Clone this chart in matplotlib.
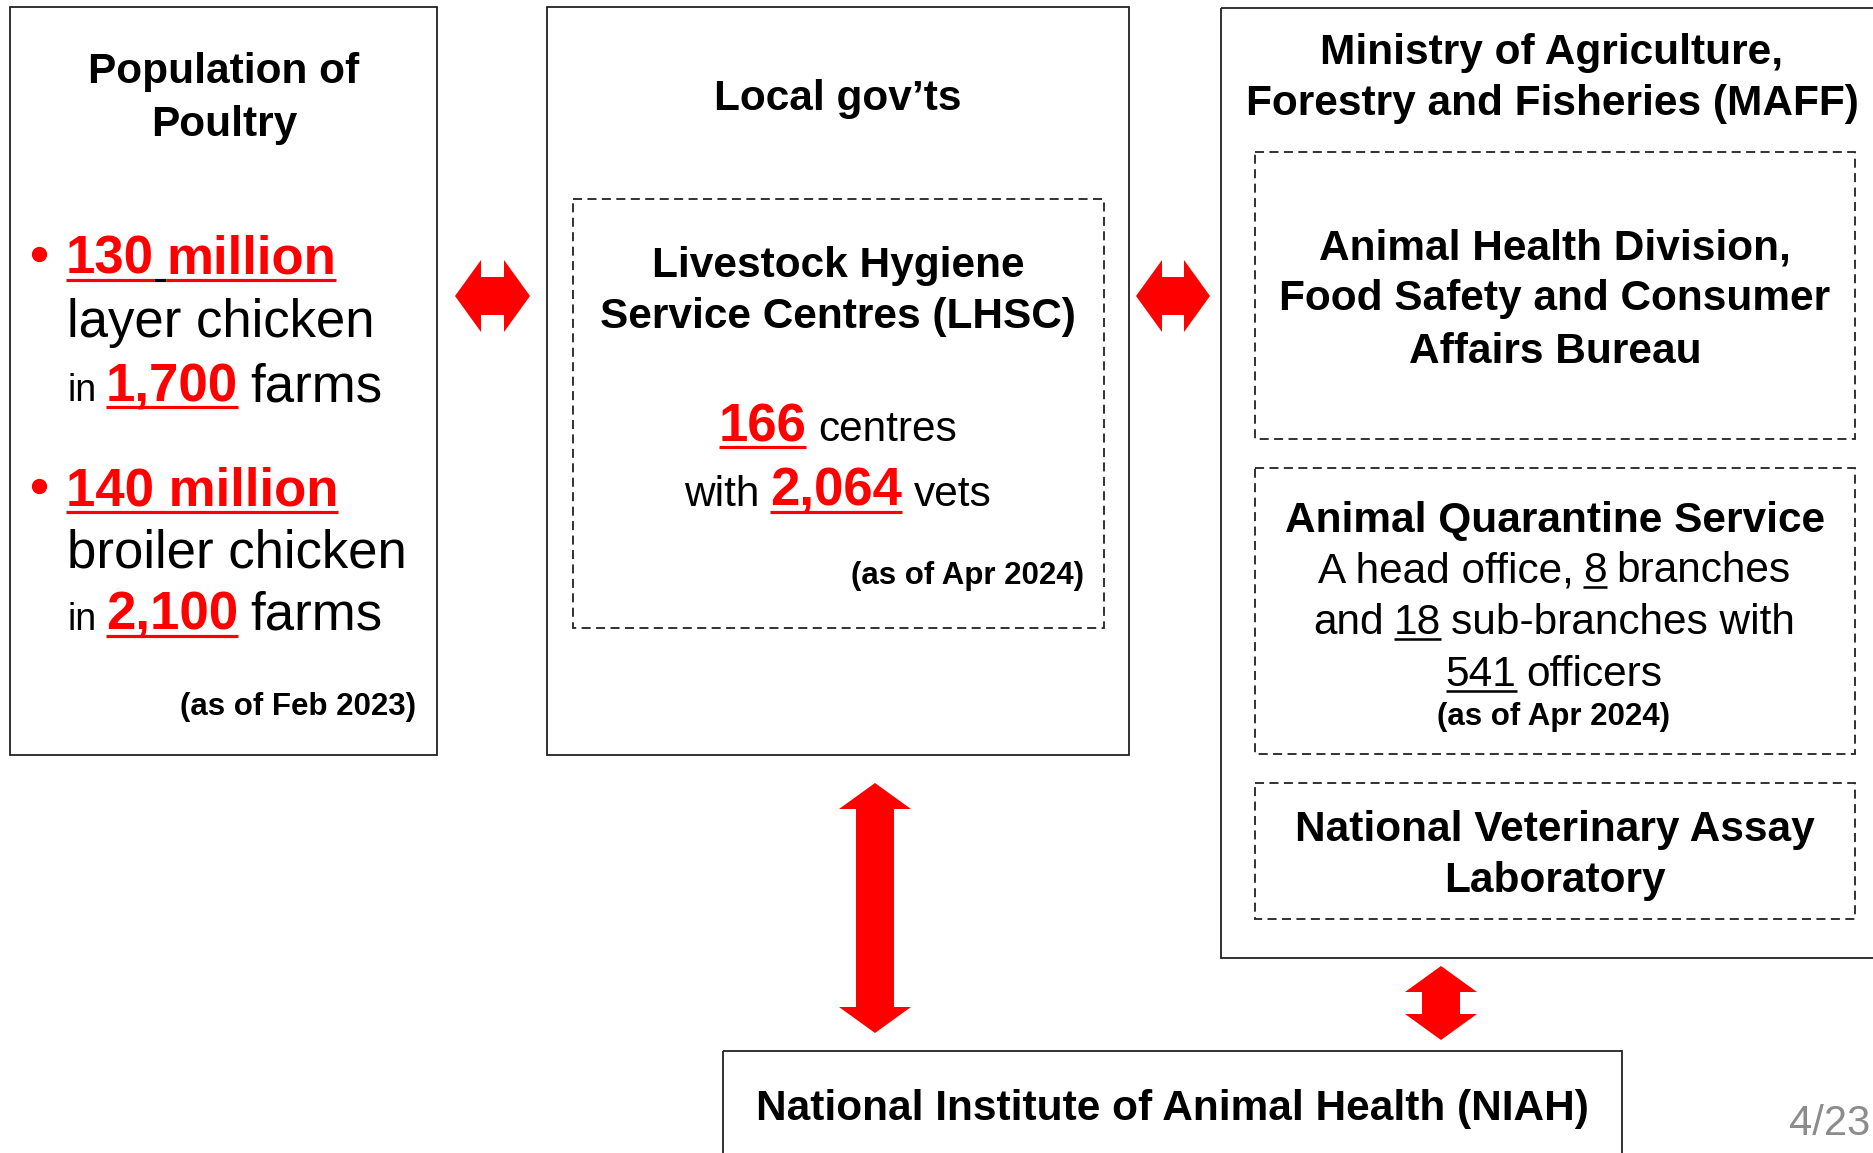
import numpy as np
import matplotlib.pyplot as plt
from matplotlib.patches import Rectangle, Polygon

FONT = ['Liberation Sans', 'DejaVu Sans']
RED = '#ff0000'

# figures quoted on the slide
layer_birds = ['130', 'million']
layer_farms = '1,700'
broiler_birds = '140 million'
broiler_farms = '2,100'
poultry_date = '(as of Feb 2023)'
lhsc_centres = '166'
lhsc_vets = '2,064'
lhsc_date = '(as of Apr 2024)'
aqs_branches = '8'
aqs_subbranches = '18'
aqs_officers = '541'
aqs_date = '(as of Apr 2024)'
page_label = '4/23'

W, H = 1874, 1153
fig = plt.figure(figsize=(W / 100, H / 100), dpi=100)
ax = fig.add_axes([0, 0, 1, 1])
ax.set_xlim(0, W)
ax.set_ylim(H, 0)
ax.axis('off')
renderer = fig.canvas.get_renderer()

HEAD = 30.5   # bold headings
BODY = 30.5   # regular text
BIG = 38      # left box text
NOTE = 22.5   # "(as of ...)"


def box(x0, y0, x1, y1, dashed=False, lw=1.3, color='#222222'):
    ls = (0, (5, 3)) if dashed else '-'
    ax.add_patch(Rectangle((x0, y0), x1 - x0, y1 - y0, fill=False,
                           ec=color, lw=lw, ls=ls))


def double_arrow(p0, p1, head_len=26, head_w=72, body_w=38):
    p0, p1 = np.array(p0, float), np.array(p1, float)
    d = (p1 - p0) / np.linalg.norm(p1 - p0)
    n = np.array([-d[1], d[0]])
    a, b = p0 + d * head_len, p1 - d * head_len
    pts = [p0, a + n * head_w / 2, a + n * body_w / 2, b + n * body_w / 2,
           b + n * head_w / 2, p1, b - n * head_w / 2, b - n * body_w / 2,
           a - n * body_w / 2, a - n * head_w / 2]
    ax.add_patch(Polygon(pts, closed=True, fc=RED, ec='none'))


def seg(text, size=BODY, bold=False, color='black', ul=None, gap_ul=None):
    return dict(text=text, size=size, weight='bold' if bold else 'normal',
                color=color, ul=ul, gap_ul=gap_ul)


def width_of(s, size, weight):
    t = ax.text(0, 0, s, fontsize=size, fontweight=weight, family=FONT)
    w = t.get_window_extent(renderer).width
    t.remove()
    return w


def line(parts, x, y, ha='center'):
    widths = [width_of(p['text'], p['size'], p['weight']) for p in parts]
    # roughly one space of the preceding run
    gaps = [0.23 * p['size'] * 100 / 72 for p in parts[:-1]]
    total = sum(widths) + sum(gaps)
    cx = {'left': x, 'center': x - total / 2, 'right': x - total}[ha]
    for i, p in enumerate(parts):
        ax.text(cx, y, p['text'], fontsize=p['size'], fontweight=p['weight'],
                color=p['color'], family=FONT, ha='left', va='baseline')
        uy = y + p['size'] * 100 / 72 * 0.11
        ulw = p['size'] * 0.06
        if p['ul']:
            ax.plot([cx, cx + widths[i]], [uy, uy], color=p['ul'], lw=ulw,
                    solid_capstyle='butt')
        cx += widths[i]
        if i < len(gaps):
            if p['gap_ul']:
                ax.plot([cx, cx + gaps[i]], [uy, uy], color=p['gap_ul'], lw=ulw,
                        solid_capstyle='butt')
            cx += gaps[i]


# frames
box(10, 7, 437, 755)
box(547, 7, 1129, 755)
box(1221, 8, 1900, 958)
box(723, 1051, 1622, 1200)
box(573, 199, 1104, 628, dashed=True)
box(1255, 152, 1855, 439, dashed=True)
box(1255, 468, 1855, 754, dashed=True)
box(1255, 783, 1855, 919, dashed=True)

# arrows
double_arrow((455, 296), (530, 296))
double_arrow((1136, 296), (1210, 296))
double_arrow((875, 783), (875, 1033))
double_arrow((1441, 966), (1441, 1040))

# left box: poultry
line([seg('Population of', HEAD, True)], 224, 83)
line([seg('Poultry', HEAD, True)], 224, 136)
ax.plot(39, 254, 'o', ms=10, color=RED)
ax.plot(39, 486, 'o', ms=10, color=RED)
line([seg(layer_birds[0], BIG, True, RED, ul=RED, gap_ul='black'),
      seg(layer_birds[1], BIG, True, RED, ul=RED)], 66, 274, ha='left')
line([seg('layer chicken', BIG)], 67, 337, ha='left')
line([seg('in', 27), seg(layer_farms, BIG, True, RED, ul=RED), seg('farms', BIG)],
     68, 401, ha='left')
line([seg(broiler_birds, BIG, True, RED, ul=RED)], 66, 506, ha='left')
line([seg('broiler chicken', BIG)], 67, 567, ha='left')
line([seg('in', 27), seg(broiler_farms, BIG, True, RED, ul=RED), seg('farms', BIG)],
     68, 630, ha='left')
line([seg(poultry_date, NOTE, True)], 416, 715, ha='right')

# middle box: local governments
line([seg('Local gov\u2019ts', HEAD, True)], 838, 110)
line([seg('Livestock Hygiene', HEAD, True)], 838, 277)
line([seg('Service Centres (LHSC)', HEAD, True)], 838, 328)
line([seg(lhsc_centres, 38, True, RED, ul=RED), seg('centres')], 838, 441)
line([seg('with'), seg(lhsc_vets, 38, True, RED, ul=RED), seg('vets')], 838, 506)
line([seg(lhsc_date, NOTE, True)], 1084, 584, ha='right')

# right box: MAFF
line([seg('Ministry of Agriculture,', HEAD, True)], 1552, 64)
line([seg('Forestry and Fisheries (MAFF)', HEAD, True)], 1552, 115)
line([seg('Animal Health Division,', HEAD, True)], 1555, 260)
line([seg('Food Safety and Consumer', HEAD, True)], 1555, 310)
line([seg('Affairs Bureau', HEAD, True)], 1555, 363)
line([seg('Animal Quarantine Service', HEAD, True)], 1555, 532)
line([seg('A head office,'), seg(aqs_branches, ul='black'), seg('branches')], 1554, 582)
line([seg('and'), seg(aqs_subbranches, ul='black'), seg('sub-branches with')], 1554, 634)
line([seg(aqs_officers, ul='black'), seg('officers')], 1554, 686)
line([seg(aqs_date, NOTE, True)], 1554, 725)
line([seg('National Veterinary Assay', HEAD, True)], 1555, 841)
line([seg('Laboratory', HEAD, True)], 1555, 892)

# bottom: NIAH
line([seg('National Institute of Animal Health (NIAH)', HEAD, True)], 1172, 1120)

ax.text(1789, 1135, page_label, fontsize=30, color='#8c8c8c', family=FONT,
        ha='left', va='baseline')

fig.savefig('out.png', dpi=100)
